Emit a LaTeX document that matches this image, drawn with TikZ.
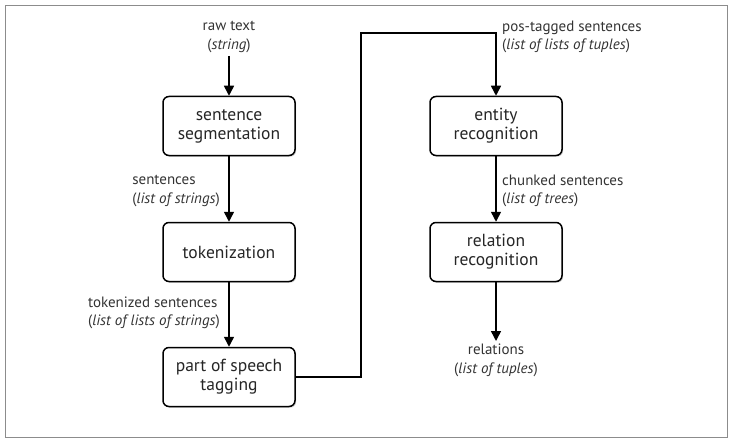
\documentclass[tikz,border=0pt]{standalone}
\usepackage{fontspec}
\setmainfont{PT Sans}
\usetikzlibrary{arrows.meta,shadows}
\begin{document}
\begin{tikzpicture}[x=1pt, y=-1pt,
    stage/.style={draw, rounded corners=6pt, line width=1.5pt, fill=white,
        minimum width=132pt, minimum height=59pt, align=center,
        font=\fontsize{17.5}{19}\selectfont, text=black!85,
        drop shadow={opacity=0.35, shadow xshift=1.2pt, shadow yshift=-1.2pt}},
    info/.style={font=\fontsize{15}{18.5}\selectfont, text=black!80, inner sep=3pt},
    flow/.style={line width=1.5pt, -{Triangle[length=10pt, width=10pt]}}]
        % Frame
        \useasboundingbox (0,0) rectangle (733,441);
        \draw[black!45, line width=0.8pt] (5,5) rectangle (727,437);

        % Left column
        \node[stage] (seg) at (229,126) {sentence\\segmentation};
        \node[stage] (tok) at (229,252) {tokenization};
        \node[stage] (pos) at (229,377) {part of speech\\tagging};

        % Right column
        \node[stage] (ent) at (496,126) {entity\\recognition};
        \node[stage] (rel) at (496,252) {relation\\recognition};

        % Data labels
        \node[info, align=center] (raw) at (229,37) {raw text\\(\textit{string})};
        \node[info, align=left, anchor=east] (sents) at (223,191) {sentences\\(\textit{list of strings})};
        \node[info, align=left, anchor=east] (toks) at (223,313) {tokenized sentences\\(\textit{list of lists of strings})};
        \node[info, align=left, anchor=west] (tags) at (499,37) {pos-tagged sentences\\(\textit{list of lists of tuples})};
        \node[info, align=left, anchor=west] (chunks) at (499,191) {chunked sentences\\(\textit{list of trees})};
        \node[info, align=center, anchor=north] (rels) at (496,341) {relations\\(\textit{list of tuples})};

        % Connect the stages
        \draw[flow] (raw) -- (seg);
        \draw[flow] (seg) -- (tok);
        \draw[flow] (tok) -- (pos);
        \coordinate (turn) at (361,33);
        \draw[flow] (pos.east) -| (turn) -| (ent.north);
        \draw[flow] (ent) -- (rel);
        \draw[flow] (rel) -- (rels.north);
    \end{tikzpicture}
\end{document}
